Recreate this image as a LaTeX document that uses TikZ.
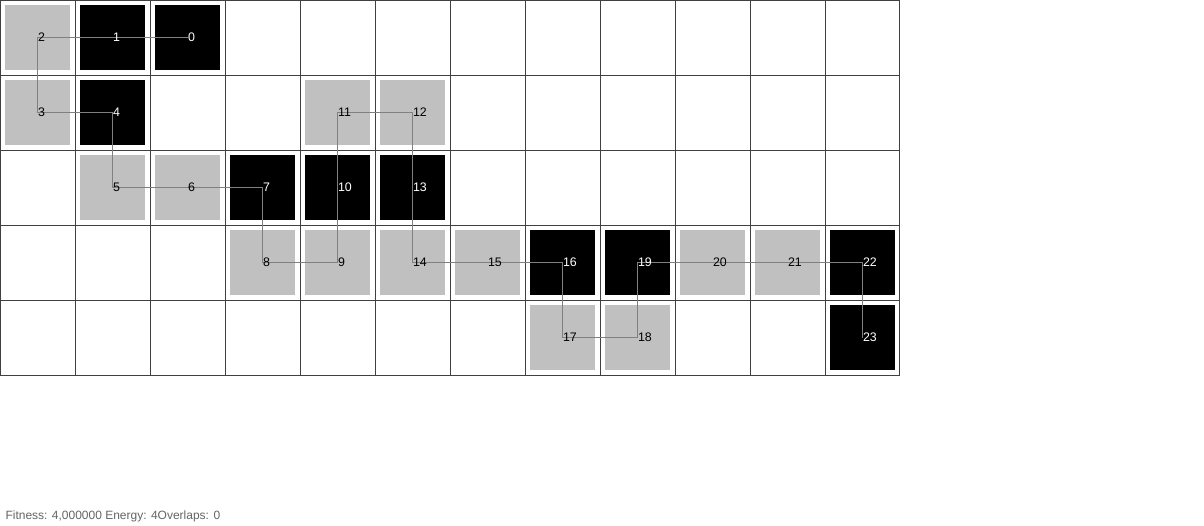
\documentclass[tikz,border=0pt]{standalone}
\usepackage{fontspec}
\setmainfont{Liberation Sans}
\usepackage{tikz}
\usepackage{xcolor}
\usetikzlibrary{positioning}
\definecolor{hcolor}{RGB}{0,0,0}
\definecolor{pcolor}{RGB}{192,192,192}
\definecolor{gridcolor}{RGB}{64,64,64}
\definecolor{bondcolor}{RGB}{128,128,128}
\definecolor{infocolor}{RGB}{100,100,100}

\begin{document}
\begin{tikzpicture}[
    x=1cm, y=-1cm,
    hbox/.style={
        rectangle, fill=hcolor, inner sep=0pt,
        minimum size=0.8667cm
    },
    pbox/.style={hbox, fill=pcolor},
    hlabel/.style={anchor=west, inner sep=0pt, text=white,
        font=\fontsize{4.7}{5.6}\selectfont},
    plabel/.style={hlabel, text=black},
    bond/.style={draw=bondcolor, line width=0.38pt},
    gridline/.style={draw=gridcolor, line width=0.38pt}
]

% Canvas
\useasboundingbox (0,0) rectangle (16.0533,7);

% Lattice
\draw[gridline] (0,0) grid (12,5);

% Monomers
\node[hbox] (m0) at (2.5, 0.5) {};
\node[hbox] (m1) at (1.5, 0.5) {};
\node[pbox] (m2) at (0.5, 0.5) {};
\node[pbox] (m3) at (0.5, 1.5) {};
\node[hbox] (m4) at (1.5, 1.5) {};
\node[pbox] (m5) at (1.5, 2.5) {};
\node[pbox] (m6) at (2.5, 2.5) {};
\node[hbox] (m7) at (3.5, 2.5) {};
\node[pbox] (m8) at (3.5, 3.5) {};
\node[pbox] (m9) at (4.5, 3.5) {};
\node[hbox] (m10) at (4.5, 2.5) {};
\node[pbox] (m11) at (4.5, 1.5) {};
\node[pbox] (m12) at (5.5, 1.5) {};
\node[hbox] (m13) at (5.5, 2.5) {};
\node[pbox] (m14) at (5.5, 3.5) {};
\node[pbox] (m15) at (6.5, 3.5) {};
\node[hbox] (m16) at (7.5, 3.5) {};
\node[pbox] (m17) at (7.5, 4.5) {};
\node[pbox] (m18) at (8.5, 4.5) {};
\node[hbox] (m19) at (8.5, 3.5) {};
\node[pbox] (m20) at (9.5, 3.5) {};
\node[pbox] (m21) at (10.5, 3.5) {};
\node[hbox] (m22) at (11.5, 3.5) {};
\node[hbox] (m23) at (11.5, 4.5) {};

% Bonds
\draw[bond] (m0.center) -- (m1.center) -- (m2.center) -- (m3.center)
    -- (m4.center) -- (m5.center) -- (m6.center) -- (m7.center)
    -- (m8.center) -- (m9.center) -- (m10.center) -- (m11.center)
    -- (m12.center) -- (m13.center) -- (m14.center) -- (m15.center)
    -- (m16.center) -- (m17.center) -- (m18.center) -- (m19.center)
    -- (m20.center) -- (m21.center) -- (m22.center) -- (m23.center);

% Indices
\node[hlabel] (t0) at (m0.center) {0};
\node[hlabel] (t1) at (m1.center) {1};
\node[plabel] (t2) at (m2.center) {2};
\node[plabel] (t3) at (m3.center) {3};
\node[hlabel] (t4) at (m4.center) {4};
\node[plabel] (t5) at (m5.center) {5};
\node[plabel] (t6) at (m6.center) {6};
\node[hlabel] (t7) at (m7.center) {7};
\node[plabel] (t8) at (m8.center) {8};
\node[plabel] (t9) at (m9.center) {9};
\node[hlabel] (t10) at (m10.center) {10};
\node[plabel] (t11) at (m11.center) {11};
\node[plabel] (t12) at (m12.center) {12};
\node[hlabel] (t13) at (m13.center) {13};
\node[plabel] (t14) at (m14.center) {14};
\node[plabel] (t15) at (m15.center) {15};
\node[hlabel] (t16) at (m16.center) {16};
\node[plabel] (t17) at (m17.center) {17};
\node[plabel] (t18) at (m18.center) {18};
\node[hlabel] (t19) at (m19.center) {19};
\node[plabel] (t20) at (m20.center) {20};
\node[plabel] (t21) at (m21.center) {21};
\node[hlabel] (t22) at (m22.center) {22};
\node[hlabel] (t23) at (m23.center) {23};

% Status line
\node[anchor=base west, inner sep=0pt, text=infocolor,
    font=\fontsize{4.55}{5.4}\selectfont] (info) at (0.0667, 6.93)
    {Fitness: 4,000000 Energy: 4Overlaps: 0};

\end{tikzpicture}
\end{document}
